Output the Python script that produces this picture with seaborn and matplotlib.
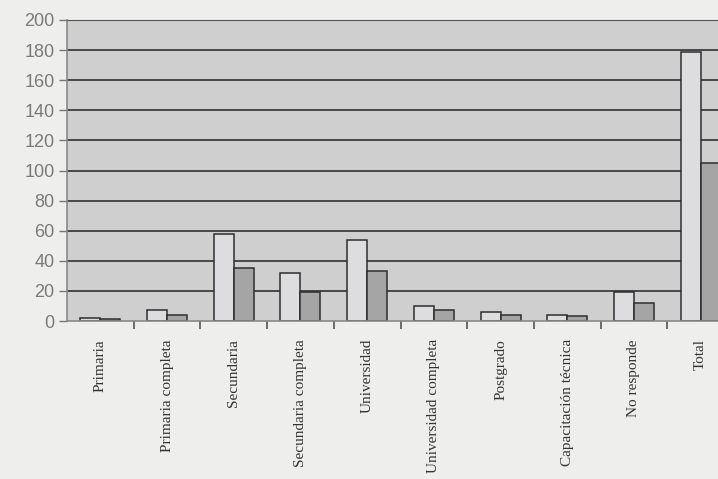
import pandas as pd
import numpy as np
import matplotlib
matplotlib.use('Agg')
import matplotlib.pyplot as plt
import seaborn as sns

categorias = ['Primaria', 'Primaria completa', 'Secundaria', 'Secundaria completa',
              'Universidad', 'Universidad completa', 'Postgrado',
              'Capacitación técnica', 'No responde', 'Total']
serie1 = [2, 7, 58, 32, 54, 10, 6, 4, 19, 179]
serie2 = [1, 4, 35, 19, 33, 7, 4, 3, 12, 105]
yticks = [0, 20, 40, 60, 80, 100, 120, 140, 160, 180, 200]

df = pd.DataFrame({'cat': categorias * 2,
                   'valor': serie1 + serie2,
                   'serie': ['Serie 1'] * len(serie1) + ['Serie 2'] * len(serie2)})

sns.set_style('white')
fig = plt.figure(figsize=(7.18, 4.79), dpi=100)
fig.patch.set_facecolor('#eeeeec')
# the plot area runs off the right edge of the picture, like the scan
ax = fig.add_axes([67 / 718, 1 - 321 / 479, 667 / 718, 301 / 479])
ax.set_facecolor('#cfcfcf')

# gridlines behind the bars
for y in yticks[1:-1]:
    ax.axhline(y, color='#3c3c3c', lw=1.3, zorder=0)

sns.barplot(data=df, x='cat', y='valor', hue='serie', palette=['#dddde0', '#a5a5a5'],
            saturation=1, width=0.6, edgecolor='#2e2e2e', linewidth=1.1,
            legend=False, ax=ax, zorder=2)

ax.set_xlim(-0.5, len(categorias) - 0.5)
ax.set_ylim(0, 200)
ax.set_xlabel('')
ax.set_ylabel('')

ax.set_yticks(yticks)
ax.set_yticklabels([str(v) for v in yticks], fontsize=13, color='#7a7a7a',
                   family='Liberation Sans')
ax.tick_params(axis='y', length=6, width=1, color='#777777', pad=3, left=True)

ax.set_xticks(range(len(categorias)))
ax.set_xticklabels(categorias, rotation=90, fontsize=11, color='#333333',
                   family='Liberation Serif', va='top', ha='center')
ax.tick_params(axis='x', which='major', length=0, pad=13)
ax.set_xticks(np.arange(0.5, len(categorias), 1), minor=True)
ax.tick_params(axis='x', which='minor', length=6, width=1.2, color='#555555',
               direction='out', bottom=True)

for side in ['left', 'bottom']:
    ax.spines[side].set_color('#888888')
    ax.spines[side].set_linewidth(1.2)
ax.spines['top'].set_color('#555555')
ax.spines['right'].set_visible(False)

fig.savefig('out.png', dpi=100, facecolor=fig.get_facecolor())
